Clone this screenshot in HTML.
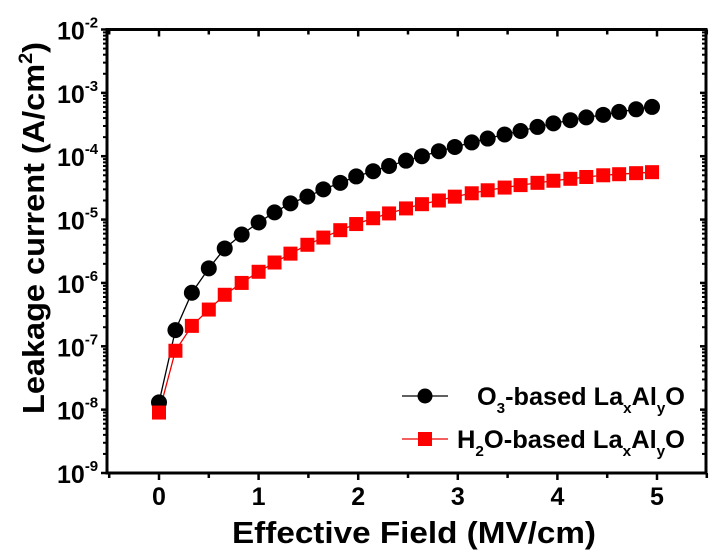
<!DOCTYPE html>
<html><head><meta charset="utf-8"><style>
html,body{margin:0;padding:0;background:#fff;}
svg{display:block;font-family:"Liberation Sans",Arial,sans-serif;font-weight:bold;}
</style></head><body>
<svg id="chart" width="717" height="554" viewBox="0 0 717 554">
<g id="axes"></g>
<g id="series"></g>
<text transform="translate(44,228) rotate(-90)" text-anchor="middle" font-size="31" textLength="372" lengthAdjust="spacingAndGlyphs">Leakage current (A/cm<tspan dy="-12" font-size="19">2</tspan><tspan dy="12">)</tspan></text>
<text x="414" y="543" text-anchor="middle" font-size="31" textLength="364" lengthAdjust="spacingAndGlyphs">Effective Field (MV/cm)</text>
<g>
<g>
<line x1="402" y1="396" x2="448" y2="396" stroke="#000" stroke-width="1.3"/>
<circle cx="425" cy="396" r="7.5" fill="#000"/>
<text x="477" y="405" font-size="25" textLength="208" lengthAdjust="spacingAndGlyphs">O<tspan dy="8" font-size="15">3</tspan><tspan dy="-8">-based La</tspan><tspan dy="8" font-size="15">x</tspan><tspan dy="-8">Al</tspan><tspan dy="8" font-size="15">y</tspan><tspan dy="-8">O</tspan></text>
</g>
<g>
<line x1="402" y1="439" x2="448" y2="439" stroke="#e00" stroke-width="1.3"/>
<rect x="418" y="432" width="14" height="14" fill="#f00"/>
<text x="457" y="448" font-size="25" textLength="228" lengthAdjust="spacingAndGlyphs">H<tspan dy="8" font-size="15">2</tspan><tspan dy="-8">O-based La</tspan><tspan dy="8" font-size="15">x</tspan><tspan dy="-8">Al</tspan><tspan dy="8" font-size="15">y</tspan><tspan dy="-8">O</tspan></text>
</g>
</g>
</svg>
<script>
const xValues=[0,0.165,0.33,0.5,0.66,0.83,1.0,1.16,1.32,1.49,1.65,1.82,1.98,2.15,2.31,2.48,2.64,2.81,2.97,3.14,3.3,3.47,3.63,3.8,3.96,4.13,4.29,4.46,4.62,4.79,4.95];
const o3Values=[1.3e-8,1.8e-7,7e-7,1.7e-6,3.5e-6,5.8e-6,9e-6,1.3e-5,1.8e-5,2.3e-5,3e-5,3.8e-5,4.8e-5,5.8e-5,7e-5,8.5e-5,1.0e-4,1.2e-4,1.4e-4,1.65e-4,1.9e-4,2.2e-4,2.5e-4,2.9e-4,3.3e-4,3.7e-4,4.1e-4,4.5e-4,5.0e-4,5.5e-4,6e-4];
const h2oValues=[9e-9,8.5e-8,2.1e-7,3.8e-7,6.5e-7,1.0e-6,1.5e-6,2.1e-6,2.9e-6,4e-6,5.2e-6,6.8e-6,8.5e-6,1.05e-5,1.25e-5,1.5e-5,1.75e-5,2e-5,2.3e-5,2.6e-5,2.9e-5,3.2e-5,3.5e-5,3.8e-5,4.1e-5,4.4e-5,4.7e-5,5.0e-5,5.2e-5,5.4e-5,5.6e-5];
const xTicks=[0,1,2,3,4,5];
const yTickExps=[-9,-8,-7,-6,-5,-4,-3,-2];

const L=107,R=706,T=29.5,B=473;
const X0=159,XS=99.6;
function sx(v){return X0+v*XS;}
function sy(v){return B-(Math.log10(v)+9)*(B-T)/7;}
const NS="http://www.w3.org/2000/svg";
function mk(tag,attrs,parent){const e=document.createElementNS(NS,tag);for(const k in attrs)e.setAttribute(k,attrs[k]);parent.appendChild(e);return e;}
const axes=document.getElementById('axes');
const frame=mk('rect',{x:L,y:T,width:R-L,height:B-T,fill:'none',stroke:'#000','stroke-width':3},axes);


// x ticks
for(let v=-0.5;v<=5.51;v+=0.5){
  const x=sx(v);const major=Math.abs(v-Math.round(v))<1e-6;
  const len=major?7:5;
  mk('line',{x1:x,y1:B,x2:x,y2:B+len,stroke:'#000','stroke-width':2.5},axes);
  mk('line',{x1:x,y1:T,x2:x,y2:T+len,stroke:'#000','stroke-width':2.5},axes);
}
xTicks.forEach(v=>{
  const t=mk('text',{x:sx(v),y:505,'text-anchor':'middle','font-size':25},axes);
  t.textContent=v;
  
  
});
// y ticks
yTickExps.forEach(e=>{
  const y=sy(Math.pow(10,e));
  mk('line',{x1:L-6,y1:y,x2:L,y2:y,stroke:'#000','stroke-width':2.5},axes);
  mk('line',{x1:R,y1:y,x2:R-6,y2:y,stroke:'#000','stroke-width':2.5},axes);
  if(e<-2){for(let m=2;m<10;m++){const ym=sy(m*Math.pow(10,e));
    mk('line',{x1:L-4,y1:ym,x2:L,y2:ym,stroke:'#000','stroke-width':2},axes);
    mk('line',{x1:R,y1:ym,x2:R-4,y2:ym,stroke:'#000','stroke-width':2},axes);}}
  const t=mk('text',{x:57,y:y+10,'font-size':25},axes);
  
  
  t.innerHTML='10<tspan dy="-12" font-size="15">'+e+'</tspan>';
});
// series
const sg=document.getElementById('series');
function pts(vals){return xValues.map((x,i)=>sx(x)+','+sy(vals[i])).join(' ');}
const lr=mk('polyline',{points:pts(h2oValues),fill:'none',stroke:'#e00','stroke-width':1.3},sg);


const lb=mk('polyline',{points:pts(o3Values),fill:'none',stroke:'#000','stroke-width':1.3},sg);


xValues.forEach((x,i)=>{
  const c=mk('circle',{cx:sx(x),cy:sy(o3Values[i]),r:8,fill:'#000'},sg);
  
  
});
xValues.forEach((x,i)=>{
  const r=mk('rect',{x:sx(x)-7,y:sy(h2oValues[i])-7,width:14,height:14,fill:'#f00'},sg);
  
  
});
</script>
</body></html>
